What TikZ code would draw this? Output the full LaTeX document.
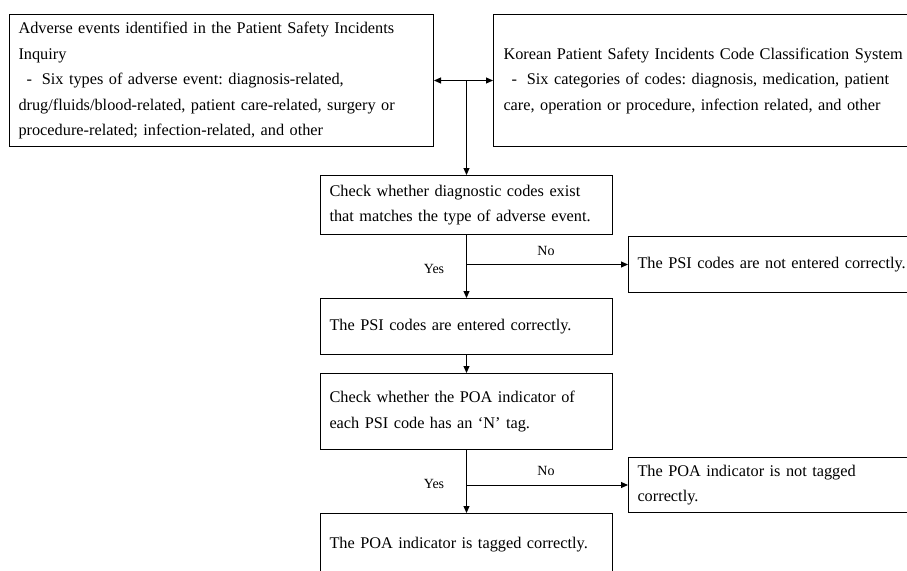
\documentclass[tikz,border=0pt]{standalone}
\usepackage{fontspec}
\setmainfont{Liberation Serif}
\usetikzlibrary{arrows.meta,calc}
\frenchspacing
\begin{document}
\begin{tikzpicture}[x=1pt,y=-1pt,
  box/.style={draw, line width=1pt, anchor=north west, align=left, inner xsep=9pt, inner ysep=0pt, font=\fontsize{16.3}{25.5}\selectfont\frenchspacing},
  arr/.style={line width=1pt, -{Triangle[length=7pt,width=6pt]}},
  darr/.style={line width=1pt, {Triangle[length=7pt,width=6pt]}-{Triangle[length=7pt,width=6pt]}},
  lbl/.style={font=\fontsize{14}{16}\selectfont, inner sep=0pt}]
\useasboundingbox (0,0) rectangle (907,570);
\clip (0,0) rectangle (907,570);
\node[box, text width=406pt, minimum height=132pt] (L) at (9,14)
  {Adverse events identified in the Patient Safety Incidents\\Inquiry\\
   \hspace*{0.5em}-\hspace*{0.6em}Six types of adverse event: diagnosis-related,\\
   drug/fluids/blood-related, patient care-related, surgery or\\
   procedure-related; infection-related, and other};
\node[box, inner xsep=10pt, text width=440pt, minimum height=132pt] (R) at (493,14)
  {Korean Patient Safety Incidents Code Classification System\\
   \hspace*{0.5em}-\hspace*{0.6em}Six categories of codes: diagnosis, medication, patient\\
   care, operation or procedure, infection related, and other};
\node[box, text width=274pt, minimum height=59pt] (c1) at (320,175)
  {Check whether diagnostic codes exist\\that matches the type of adverse event.};
\node[box, text width=300pt, minimum height=56pt] (n1) at (628,236)
  {The PSI codes are not entered correctly.};
\node[box, text width=274pt, minimum height=56pt] (e1) at (320,298)
  {The PSI codes are entered correctly.};
\node[box, text width=274pt, minimum height=76pt] (c2) at (320,373)
  {Check whether the POA indicator of\\each PSI code has an `N' tag.};
\node[box, text width=300pt, minimum height=55pt] (n2) at (628,457)
  {The POA indicator is not tagged\\correctly.};
\node[box, text width=274pt, minimum height=62pt] (e2) at (320,513)
  {The POA indicator is tagged correctly.};
% top connectors
\draw[darr] (L.east) -- (R.west);
\draw[arr] (c1.north |- L.east) -- (c1.north);
% first decision
\draw[arr] (c1.south) -- (e1.north);
\draw[arr] (c1.south |- n1.west) -- (n1.west);
\node[lbl] (no1) at (546,251) {No};
\node[lbl] (yes1) at (434,269) {Yes};
\draw[arr] (e1.south) -- (c2.north);
% second decision
\draw[arr] (c2.south) -- (e2.north);
\draw[arr] (c2.south |- n2.west) -- (n2.west);
\node[lbl] (no2) at (546,471) {No};
\node[lbl] (yes2) at (434,484) {Yes};
\end{tikzpicture}
\end{document}
